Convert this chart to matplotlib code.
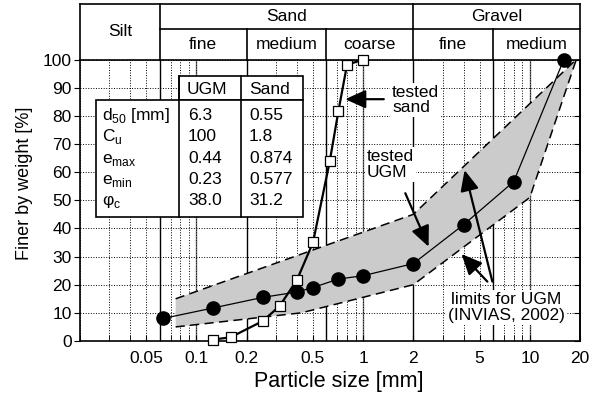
import numpy as np
import matplotlib
matplotlib.use("Agg")
import matplotlib.pyplot as plt
from matplotlib.patches import Rectangle
from matplotlib.ticker import FixedLocator, NullFormatter

plt.rcParams['font.family'] = ['Liberation Sans', 'DejaVu Sans']
plt.rcParams['mathtext.fontset'] = 'custom'
plt.rcParams['mathtext.rm'] = 'Liberation Sans'
plt.rcParams['font.size'] = 12.5

# grain size distributions
ugm_size = [0.063, 0.125, 0.25, 0.4, 0.5, 0.71, 1.0, 2.0, 4.0, 8.0, 16.0]
ugm_finer = [8.0, 11.7, 15.5, 17.4, 19.0, 22.0, 23.2, 27.5, 41.3, 56.6, 100.0]

sand_size = [0.125, 0.16, 0.25, 0.315, 0.4, 0.5, 0.63, 0.71, 0.8, 1.0]
sand_finer = [0.5, 1.3, 7.1, 12.4, 21.6, 35.0, 63.8, 81.6, 98.1, 100.0]

# INVIAS (2002) band for UGM
upper_size = [0.075, 2.0, 19.0]
upper_finer = [15.0, 45.0, 100.0]
lower_size = [0.075, 0.425, 2.0, 10.0, 19.0]
lower_finer = [5.0, 10.0, 20.0, 51.0, 100.0]

# soil classes (boundaries in mm)
class_bounds = [0.06, 0.2, 0.6, 2.0, 6.0]
main_classes = [('Silt', 0.02, 0.06), ('Sand', 0.06, 2.0), ('Gravel', 2.0, 20.0)]
sub_classes = [('fine', 0.06, 0.2), ('medium', 0.2, 0.6), ('coarse', 0.6, 2.0),
               ('fine', 2.0, 6.0), ('medium', 6.0, 20.0)]

# material properties table
prop_names = [r'd$_\mathregular{50}$ [mm]', r'C$_\mathregular{u}$',
              r'e$_\mathregular{max}$', r'e$_\mathregular{min}$', r'φ$_\mathregular{c}$']
ugm_props = ['6.3', '100', '0.44', '0.23', '38.0']
sand_props = ['0.55', '1.8', '0.874', '0.577', '31.2']

xticks = [0.05, 0.1, 0.2, 0.5, 1, 2, 5, 10, 20]
xticklabels = ['0.05', '0.1', '0.2', '0.5', '1', '2', '5', '10', '20']

W, H = 610, 397
L, R, T, B = 80, 580, 59.5, 341

fig = plt.figure(figsize=(W / 100, H / 100), dpi=100)
ax = fig.add_axes([L / W, (H - B) / H, (R - L) / W, (B - T) / H])


def ax_x(px):
    return (px - L) / (R - L)


def ax_y(py):
    return (B - py) / (B - T)


ax.set_xscale('log')
ax.set_xlim(0.02, 20)
ax.set_ylim(0, 100)

# grid
ax.set_xticks(xticks)
ax.set_xticklabels(xticklabels)
minor = [m * 10.0 ** e for e in (-2, -1, 0, 1) for m in range(2, 10)]
ax.xaxis.set_minor_locator(FixedLocator(minor))
ax.xaxis.set_minor_formatter(NullFormatter())
ax.set_yticks(np.arange(0, 101, 10))
ax.grid(True, which='both', axis='x', ls=':', color='k', lw=0.7, zorder=0)
ax.grid(True, which='major', axis='y', ls=':', color='k', lw=0.7, zorder=0)
for b in class_bounds:
    ax.axvline(b, color='k', lw=1.0, zorder=1)
for d in (0.1, 1, 10):
    ax.axvline(d, color='0.45', lw=1.0, zorder=1)

ax.tick_params(axis='x', which='both', direction='in', length=4, pad=7, labelsize=12.5)
ax.tick_params(axis='y', which='major', direction='out', length=4, pad=2, labelsize=12.5)
sec = ax.secondary_yaxis('right')
sec.set_yticks(np.arange(0, 101, 10))
sec.tick_params(direction='in', length=4, labelright=False)
for s in list(ax.spines.values()) + list(sec.spines.values()):
    s.set_linewidth(1.2)

# band and curves
band_x = list(upper_size) + list(lower_size)[::-1]
band_y = list(upper_finer) + list(lower_finer)[::-1]
ax.fill(band_x, band_y, color='#cbcbcb', lw=0, zorder=2)
ax.plot(upper_size, upper_finer, color='k', ls=(0, (6, 3.5)), lw=1.1, zorder=3)
ax.plot(lower_size, lower_finer, color='k', ls=(0, (6, 3.5)), lw=1.1, zorder=3)

ax.plot(ugm_size, ugm_finer, color='k', lw=0.9, marker='o', ms=9.5,
        mfc='k', mec='k', zorder=5, clip_on=False)
ax.plot(sand_size, sand_finer, color='k', lw=1.6, marker='s', ms=6.5,
        mfc='white', mec='k', mew=0.9, zorder=6, clip_on=False)

# header with soil classes
hdr = ax.get_xaxis_transform()
y_top = ax_y(4)
y_mid = ax_y(29)
hk = dict(color='k', lw=1.2, transform=hdr, clip_on=False)
ax.plot([0.02, 20], [y_top, y_top], **hk)
ax.plot([0.06, 20], [y_mid, y_mid], **hk)
for xv in (0.02, 0.06, 2.0, 20):
    ax.plot([xv, xv], [1, y_top], **hk)
for xv in (0.2, 0.6, 6.0):
    ax.plot([xv, xv], [1, y_mid], **hk)
for name, a, b in main_classes:
    yc = (1 + y_top) / 2 if name == 'Silt' else (y_mid + y_top) / 2
    ax.text(np.sqrt(a * b), yc, name, transform=hdr, ha='center', va='center')
for name, a, b in sub_classes:
    ax.text(np.sqrt(a * b), (1 + y_mid) / 2, name, transform=hdr, ha='center', va='center')

# properties table
tk = dict(transform=ax.transAxes, facecolor='white', edgecolor='k', lw=1.2, zorder=7)
ax.add_patch(Rectangle((ax_x(179), ax_y(100)), ax_x(303) - ax_x(179),
                       ax_y(76) - ax_y(100), **tk))
ax.add_patch(Rectangle((ax_x(96), ax_y(217)), ax_x(303) - ax_x(96),
                       ax_y(100) - ax_y(217), **tk))
for cx in (179, 241):
    ax.plot([ax_x(cx), ax_x(cx)], [ax_y(76), ax_y(217)], color='k', lw=1.2,
            transform=ax.transAxes, zorder=8)
ax.text(ax_x(187), ax_y(94), 'UGM', transform=ax.transAxes, zorder=9)
ax.text(ax_x(249), ax_y(94), 'Sand', transform=ax.transAxes, zorder=9)
for i, (nm, u, s) in enumerate(zip(prop_names, ugm_props, sand_props)):
    yb = ax_y(120 + 21.3 * i)
    ax.text(ax_x(102), yb, nm, transform=ax.transAxes, zorder=9)
    ax.text(ax_x(188), yb, u, transform=ax.transAxes, zorder=9)
    ax.text(ax_x(249), yb, s, transform=ax.transAxes, zorder=9)

# labels and arrows
box = dict(facecolor='white', edgecolor='none', pad=1.5)
ax.text(1.49, 85.6, 'tested\nsand', ha='left', va='center', bbox=box, zorder=4,
        linespacing=1.05)
ax.text(1.05, 62.7, 'tested\nUGM', ha='left', va='center', bbox=box, zorder=4,
        linespacing=1.05)
ax.text(7.2, 11.9, 'limits for UGM\n(INVIAS, 2002)', ha='center', va='center',
        bbox=box, zorder=4, linespacing=1.05)

ap = dict(arrowstyle='-|>,head_length=1.0,head_width=0.45', color='k', lw=1.6,
          shrinkA=0, shrinkB=0)
ax.annotate('', xy=(0.78, 85.9), xytext=(1.33, 85.9), arrowprops=ap, zorder=8)
ax.annotate('', xy=(2.47, 33.5), xytext=(1.79, 52.5), arrowprops=ap, zorder=8)
ax.annotate('', xy=(4.06, 60.7), xytext=(5.96, 21.1), arrowprops=ap, zorder=8)
ax.annotate('', xy=(3.89, 30.9), xytext=(5.56, 21.1), arrowprops=ap, zorder=8)

ax.text(ax_x(338.5), ax_y(381), 'Particle size [mm]', transform=ax.transAxes,
        ha='center', va='center', fontsize=15.5)
ax.text(ax_x(25), ax_y(183), 'Finer by weight [%]', transform=ax.transAxes,
        ha='center', va='center', rotation=90, fontsize=13)

fig.savefig('out.png', dpi=100)
